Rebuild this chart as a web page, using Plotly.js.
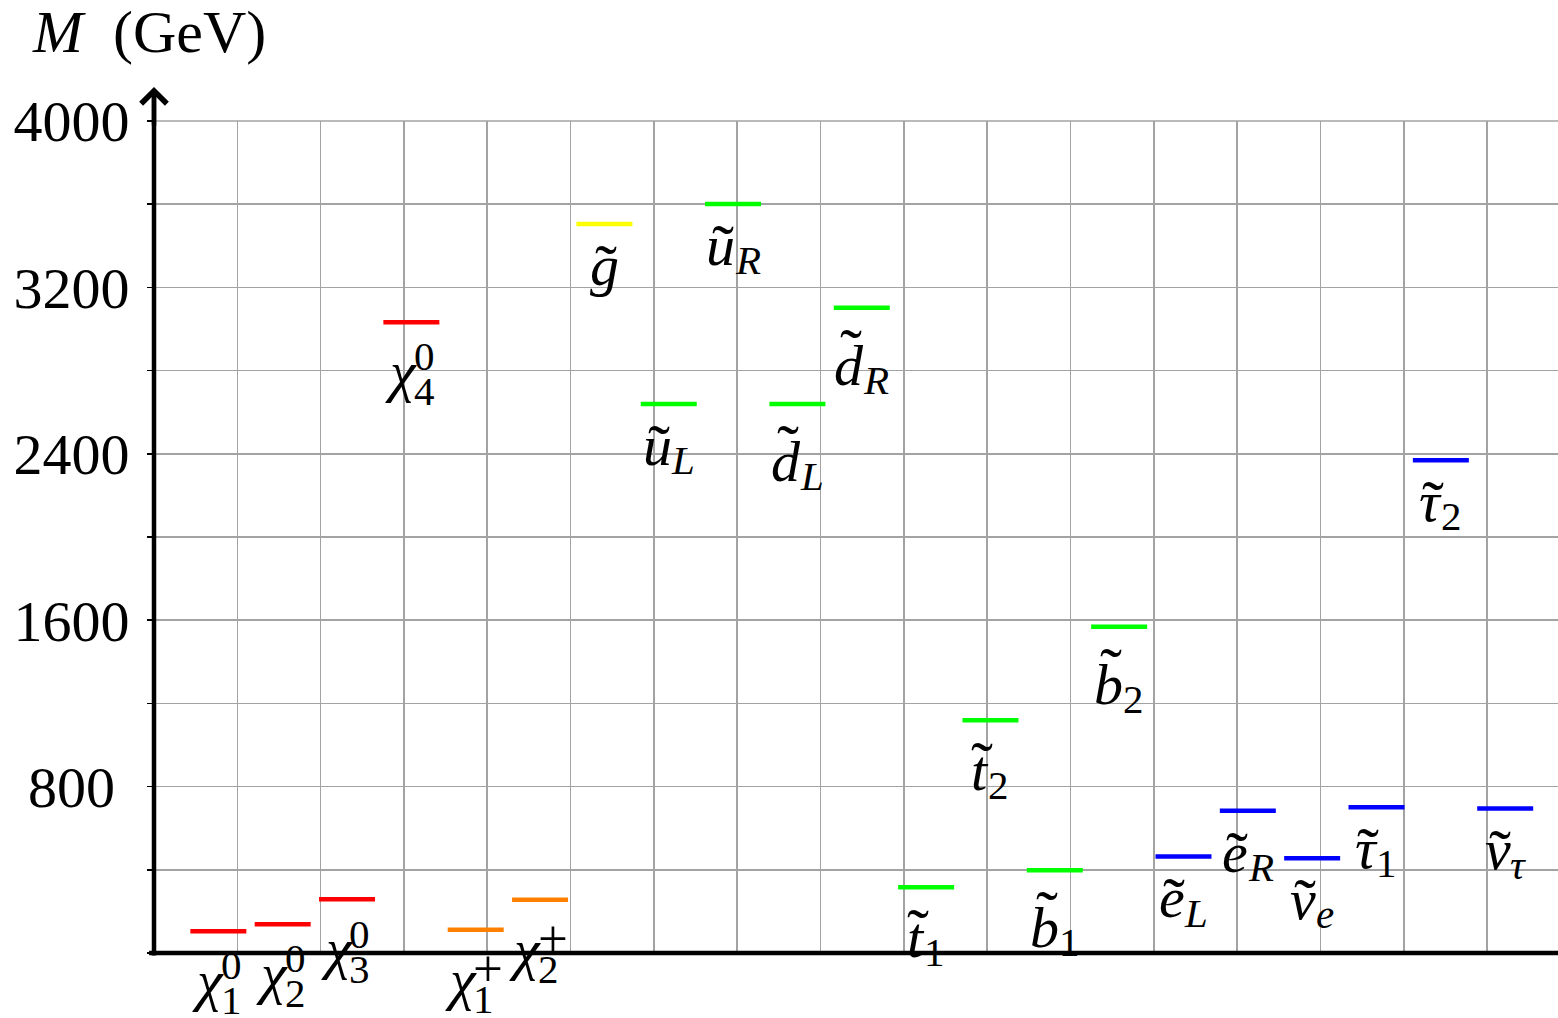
<!DOCTYPE html>
<html>
<head>
<meta charset="utf-8">
<script src="https://cdn.plot.ly/plotly-3.0.1.min.js"></script>
<style>
  html, body { margin: 0; padding: 0; background: #fff; }
  #chart { width: 1558px; height: 1018px; }
</style>
</head>
<body>
<div id="chart"></div>
<script>
// Sparticle mass spectrum: one short horizontal level per state.
const symbols      = ['χ','χ','χ','χ','χ','χ','g','u','u','d','d','t','t','b','b','e','e','ν','τ','τ','ν'];
const hasTilde     = [false,false,false,false,false,false,true,true,true,true,true,true,true,true,true,true,true,true,true,true,true];
const subscripts   = ['1','2','3','4','1','2','','L','R','L','R','1','2','1','2','L','R','e','1','2','τ'];
const superscripts = ['0','0','0','0','+','+','','','','','','','','','','','','','','',''];
const masses       = [105,138,258,3033,112,256,3505,2640,3601,2640,3102,316,1119,398,1569,464,684,456,701,2369,695];
const families     = ['neutralino','neutralino','neutralino','neutralino','chargino','chargino','gluino',
                      'squark','squark','squark','squark','squark','squark','squark','squark',
                      'slepton','slepton','slepton','slepton','slepton','slepton'];
const yTickValues  = [0,400,800,1200,1600,2000,2400,2800,3200,3600,4000];
const yTickLabels  = ['','','800\u00A0','','1600','','2400','','3200','','4000'];

const familyColor = {
  neutralino: '#ff0000',
  chargino: '#ff8000',
  gluino: '#ffff00',
  squark: '#00ff00',
  slepton: '#0000ff'
};

const FONT = 'Liberation Serif';
const F = 58;          // main text size
const FS = 41;         // script size
const FT = 66;         // tilde accent size
const K = 0.3375;      // baseline sits K*size below the centre of a text box
const SPACING = 0.7722;  // distance between neighbouring levels, in grid units
const X_MAX = 16.85;

const xs = masses.map((_, i) => (i + 1) * SPACING);
const colors = families.map(f => familyColor[f]);

const ctx = document.createElement('canvas').getContext('2d');
function textWidth(str, size, italic) {
  ctx.font = (italic ? 'italic ' : '') + size + 'px "' + FONT + '"';
  return ctx.measureText(str).width;
}
const isLetter = s => /[A-Za-zα-ω]/.test(s);

// how far (px) the label baseline sits below its level
function baselineDrop(sym) {
  if (sym === 'χ') return 69;
  if (sym === 'b' || sym === 'd') return 77;
  if (sym === 't') return 70;
  return 61;
}
function tildeLift(sym) {
  if (sym === 'b' || sym === 'd') return 16;
  if (sym === 't') return 8;
  return 0;
}
// operator signs are set a little larger in the superscript
const supSize = s => (s === '+' ? 53 : FS);
const supLift = s => (s === '+' ? 13 : 21);

function piece(i, text, size, dx, baselineDown) {
  return {
    x: xs[i], y: masses[i], xref: 'x', yref: 'y',
    text: text, showarrow: false,
    xanchor: 'center', yanchor: 'middle',
    xshift: dx, yshift: -(baselineDown - K * size),
    font: { family: FONT, size: size, color: '#000' },
    borderpad: 0, borderwidth: 0
  };
}

const annotations = [];
symbols.forEach((sym, i) => {
  const sub = subscripts[i], sup = superscripts[i];
  const wB = textWidth(sym, F, true);
  const wSub = sub ? textWidth(sub, FS, isLetter(sub)) : 0;
  const wSup = sup ? textWidth(sup, supSize(sup), isLetter(sup)) : 0;
  const total = wB + Math.max(wSub, wSup);
  const left = -total / 2;
  const base = baselineDrop(sym);
  const bx = left + wB / 2;
  annotations.push(piece(i, '<i>' + sym + '</i>', F, bx, base));
  if (hasTilde[i]) {
    annotations.push(piece(i, '\u02DC', FT, bx + 2, base - tildeLift(sym) + 5));
  }
  if (sub) {
    const t = isLetter(sub) ? '<i>' + sub + '</i>' : sub;
    annotations.push(piece(i, t, FS, left + wB + wSub / 2, base + (sup ? 14 : 9)));
  }
  if (sup) {
    const t = isLetter(sup) ? '<i>' + sup + '</i>' : sup;
    annotations.push(piece(i, t, supSize(sup), left + wB + wSup / 2, base - supLift(sup)));
  }
});

// arrow head on top of the mass axis
annotations.push({
  x: 0, y: 1.041, xref: 'paper', yref: 'paper',
  ax: 0, ay: 40, axref: 'pixel', ayref: 'pixel',
  text: '', showarrow: true, arrowhead: 4, arrowsize: 1.1, arrowwidth: 4.5,
  arrowcolor: '#000', standoff: 0
});

const gridColor = '#a3a3a3';

const trace = {
  type: 'scatter', mode: 'markers',
  x: xs, y: masses,
  marker: {
    symbol: 'line-ew', size: 40,
    color: colors,
    line: { color: colors, width: 4.5 }
  },
  hoverinfo: 'skip', cliponaxis: false, showlegend: false
};

const layout = {
  width: 1558, height: 1018,
  margin: { l: 154, r: 0, t: 121, b: 65, pad: 0 },
  paper_bgcolor: '#fff', plot_bgcolor: '#fff',
  showlegend: false,
  title: {
    text: '<i>M</i>\u00A0\u00A0(GeV)',
    font: { family: FONT, size: 60, color: '#000' },
    xref: 'container', yref: 'container',
    x: 33 / 1558, xanchor: 'left',
    y: 1 - 52 / 1018, yanchor: 'bottom',
    pad: { t: 0, b: 0, l: 0, r: 0 }
  },
  xaxis: {
    range: [0, X_MAX], tick0: 0, dtick: 1,
    showgrid: true, gridcolor: gridColor, gridwidth: 1.6,
    showticklabels: false, ticks: '', zeroline: false, showline: false,
    fixedrange: true
  },
  yaxis: {
    range: [0, 4000], tickmode: 'array',
    tickvals: yTickValues, ticktext: yTickLabels,
    ticks: 'outside', ticklen: 6, tickwidth: 1.5, tickcolor: '#000',
    ticklabelstandoff: 6,
    tickfont: { family: FONT, size: F, color: '#000' },
    showgrid: true, gridcolor: gridColor, gridwidth: 1.6,
    zeroline: false, showline: false, fixedrange: true
  },
  yaxis2: {
    overlaying: 'y', anchor: 'x', side: 'left',
    range: [0, 4000], tickmode: 'array', tickvals: yTickValues,
    ticks: 'inside', ticklen: 6, tickwidth: 1.5, tickcolor: '#000',
    showticklabels: false, showgrid: false, zeroline: false, showline: false,
    fixedrange: true
  },
  shapes: [
    { type: 'line', xref: 'paper', yref: 'paper', x0: 0, x1: 1, y0: 1, y1: 1,
      line: { color: gridColor, width: 1.6 }, layer: 'below' },
    { type: 'line', xref: 'paper', yref: 'paper', x0: -0.0035, x1: 1, y0: 0, y1: 0,
      line: { color: '#000', width: 4.5 }, layer: 'above' },
    { type: 'line', xref: 'paper', yref: 'paper', x0: 0, x1: 0, y0: -0.003, y1: 1.03,
      line: { color: '#000', width: 4.5 }, layer: 'above' }
  ],
  annotations: annotations
};

Plotly.newPlot('chart', [trace], layout, { displayModeBar: false, staticPlot: true });
</script>
</body>
</html>
